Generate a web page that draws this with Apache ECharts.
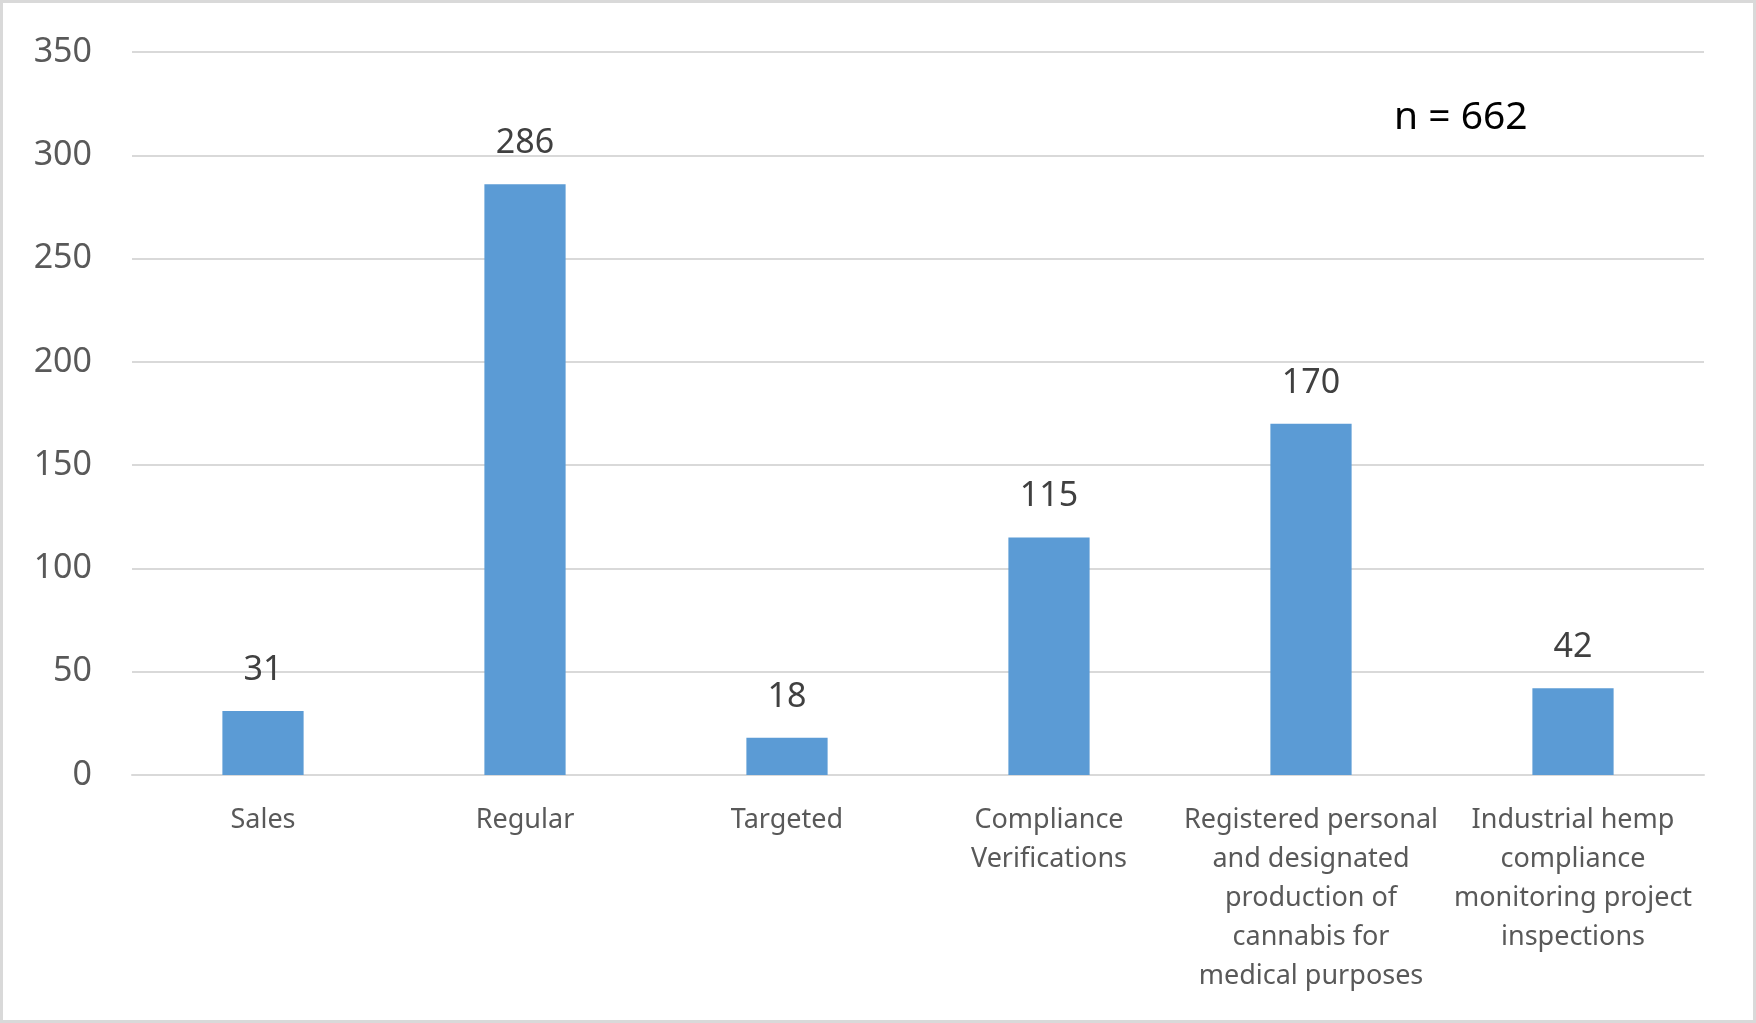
<!DOCTYPE html>
<html><head><meta charset="utf-8">
<script src="https://cdn.jsdelivr.net/npm/echarts@6/dist/echarts.min.js"></script>
<style>html,body{margin:0;padding:0;background:#fff}#c{width:1756px;height:1023px;box-sizing:border-box;border:3px solid #d9d9d9}</style>
</head><body><div id="c"></div>
<script>
const categories = ["Sales", "Regular", "Targeted", "Compliance\nVerifications", "Registered personal\nand designated\nproduction of\ncannabis for\nmedical purposes", "Industrial hemp\ncompliance\nmonitoring project\ninspections"];
const values = [31, 286, 18, 115, 170, 42];
const yTicks = { min: 0, max: 350, interval: 50 };
const note = "n = 662";

const chart = echarts.init(document.getElementById('c'));
chart.setOption({
  animation: false,
  grid: { left: 129, right: 49, top: 49, bottom: 245, containLabel: false },
  graphic: [{ type: 'text', left: 1391, top: 95, style: { text: note, font: '39px "Noto Sans"', fill: '#000' } }],
  xAxis: {
    type: 'category', data: categories,
    axisLine: { lineStyle: { color: '#d9d9d9', width: 2 } },
    axisTick: { show: false },
    axisLabel: { color: '#595959', fontFamily: 'Noto Sans', fontSize: 27, lineHeight: 39, margin: 26, interval: 0, align: 'center' }
  },
  yAxis: {
    type: 'value', min: yTicks.min, max: yTicks.max, interval: yTicks.interval,
    axisLine: { show: false }, axisTick: { show: false },
    splitLine: { lineStyle: { color: '#d9d9d9', width: 2 } },
    axisLabel: { color: '#595959', fontFamily: 'Noto Sans', fontSize: 34, margin: 40 }
  },
  series: [{
    type: 'bar', data: values, barWidth: '31%',
    itemStyle: { color: '#5b9bd5' },
    label: { show: true, position: 'top', distance: 24, color: '#404040', fontFamily: 'Noto Sans', fontSize: 34 }
  }]
});
</script></body></html>
